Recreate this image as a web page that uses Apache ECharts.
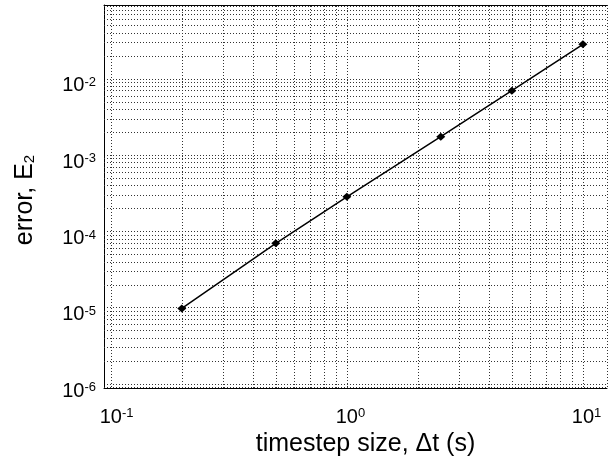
<!DOCTYPE html>
<html>
<head>
<meta charset="utf-8">
<script src="https://cdn.jsdelivr.net/npm/echarts@6/dist/echarts.min.js"></script>
<style>
html,body{margin:0;padding:0;background:#fff;}
#chart{width:610px;height:467px;}
</style>
</head>
<body>
<div id="chart"></div>
<script>
// ---- data ----
const dtValues = [0.2, 0.5, 1, 2.5, 5, 10];
const errorValues = [9.8e-6, 7.0e-5, 2.85e-4, 1.75e-3, 7.0e-3, 2.84e-2];
const xLimits = [0.0936, 12.65];
const yLimits = [8.87e-7, 0.0931];
const xDecades = [-2, -1, 0, 1];
const yDecades = [-7, -6, -5, -4, -3, -2, -1];
const minorMultipliers = [2, 3, 4, 5, 6, 7, 8, 9];
const xTitle = 'timestep size, \u0394t (s)';
const yTitleMain = 'error, E';
const yTitleSub = '2';

function minorValues(decades, lim) {
  const out = [];
  decades.forEach(function (d) {
    minorMultipliers.forEach(function (m) {
      const v = m * Math.pow(10, d);
      if (v > lim[0] && v < lim[1]) out.push(v);
    });
  });
  return out;
}
const xMinor = minorValues(xDecades, xLimits);
const yMinor = minorValues(yDecades, yLimits);

const FONT = '"Liberation Sans", Arial, Helvetica, sans-serif';
const gridLine = { color: '#333', type: [1, 2], width: 1 };
const borderLine = { show: true, lineStyle: { color: '#000', width: 1 } };

function powerExp(v) {
  const e = Math.log10(v);
  const r = Math.round(e);
  if (Math.abs(e - r) > 1e-6) return null;
  return r;
}

const minorLines = [];
xMinor.forEach(function (v) { minorLines.push({ coords: [[v, yLimits[0]], [v, yLimits[1]]] }); });
yMinor.forEach(function (v) { minorLines.push({ coords: [[xLimits[0], v], [xLimits[1], v]] }); });

const chart = echarts.init(document.getElementById('chart'));
chart.setOption({
  animation: false,
  backgroundColor: '#fff',
  textStyle: { fontFamily: FONT },
  grid: { left: 104, right: 0, top: 5, bottom: 79, show: false },
  xAxis: [{
    type: 'log', logBase: 10, min: xLimits[0], max: xLimits[1],
    axisLine: borderLine, axisTick: { show: false },
    splitLine: { show: true, lineStyle: gridLine },
    axisLabel: {
      margin: 19, verticalAlign: 'top',
      formatter: function (v) {
        const e = powerExp(v);
        if (e === null) return '';
        return '{h|' + e + '}{b|10}{s|' + e + '}';
      },
      rich: {
        b: { fontSize: 20, lineHeight: 20, color: '#000', fontFamily: FONT },
        s: { fontSize: 13, lineHeight: 13, verticalAlign: 'top', color: '#000', fontFamily: FONT },
        h: { fontSize: 13, lineHeight: 13, verticalAlign: 'top', color: 'rgba(0,0,0,0)', fontFamily: FONT }
      }
    },
    name: xTitle, nameLocation: 'middle', nameGap: 36,
    nameTextStyle: { fontSize: 25, color: '#000', fontFamily: FONT, padding: [0, 0, 0, 20] }
  }, {
    type: 'log', logBase: 10, min: xLimits[0], max: xLimits[1], position: 'top',
    axisLine: borderLine, axisTick: { show: false }, axisLabel: { show: false },
    splitLine: { show: false }
  }],
  yAxis: {
    type: 'log', logBase: 10, min: yLimits[0], max: yLimits[1],
    axisLine: borderLine, axisTick: { show: false },
    splitLine: { show: true, lineStyle: gridLine },
    axisLabel: {
      margin: 8, padding: [14, 0, 0, 0],
      formatter: function (v) {
        const e = powerExp(v);
        if (e === null) return '';
        return '{b|10}{s|' + e + '}';
      },
      rich: {
        b: { fontSize: 20, lineHeight: 20, color: '#000', fontFamily: FONT },
        s: { fontSize: 13, lineHeight: 13, verticalAlign: 'top', color: '#000', fontFamily: FONT }
      }
    },
    name: '{m|' + yTitleMain + '}{u|' + yTitleSub + '}', nameLocation: 'middle', nameGap: 66,
    nameTextStyle: {
      padding: [0, 7, 0, 0],
      rich: {
        m: { fontSize: 25, lineHeight: 25, color: '#000', fontFamily: FONT },
        u: { fontSize: 15, lineHeight: 25, color: '#000', fontFamily: FONT, padding: [8, 0, 0, 0] }
      }
    }
  },
  series: [{
    type: 'lines',
    coordinateSystem: 'cartesian2d',
    xAxisIndex: 0, yAxisIndex: 0,
    silent: true,
    polyline: false,
    lineStyle: { color: gridLine.color, type: gridLine.type, width: 1, opacity: 1 },
    data: minorLines,
    z: 1
  }, {
    type: 'line',
    xAxisIndex: 0, yAxisIndex: 0,
    data: dtValues.map(function (x, i) { return [x, errorValues[i]]; }),
    lineStyle: { color: '#000', width: 1.5 },
    itemStyle: { color: '#000' },
    symbol: 'diamond', symbolSize: [9, 8],
    z: 5
  }]
});
</script>
</body>
</html>
